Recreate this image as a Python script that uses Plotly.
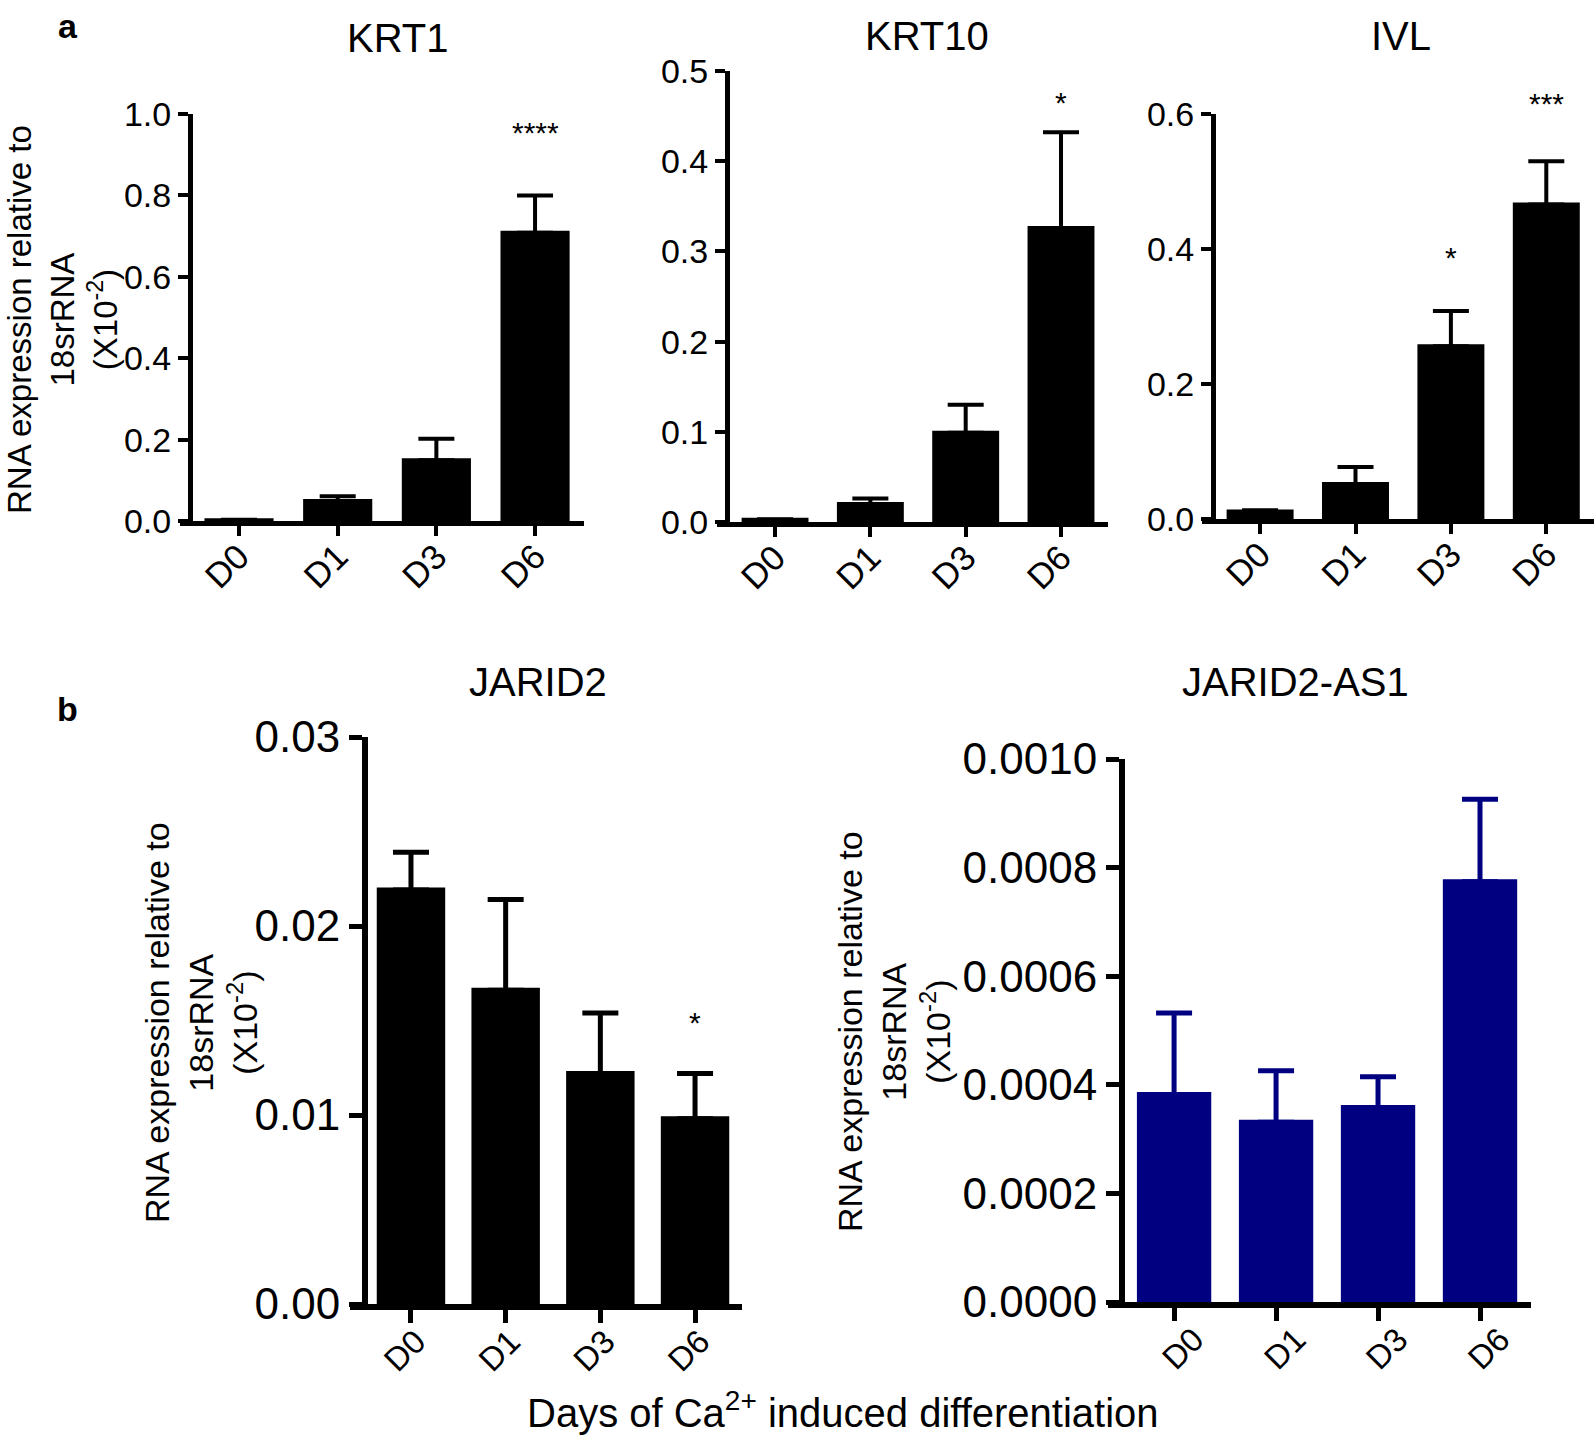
import plotly.graph_objects as go

W, H = 1594, 1437

days = ["D0", "D1", "D3", "D6"]

krt1_mean = [0.002, 0.049, 0.149, 0.708]
krt1_err = [0.001, 0.012, 0.053, 0.092]
krt10_mean = [0.0025, 0.020, 0.099, 0.326]
krt10_err = [0.0005, 0.006, 0.031, 0.106]
ivl_mean = [0.011, 0.052, 0.256, 0.466]
ivl_err = [0.002, 0.025, 0.052, 0.064]
jarid2_mean = [0.0219, 0.0166, 0.0122, 0.0098]
jarid2_err = [0.0020, 0.0048, 0.0032, 0.0024]
as1_mean = [0.000382, 0.000331, 0.000358, 0.000774]
as1_err = [0.000150, 0.000095, 0.000057, 0.000152]

titles = ["KRT1", "KRT10", "IVL", "JARID2", "JARID2-AS1"]
# significance marks: (panel index, category, y value, text)
stars = [(0, "D6", 0.97, "****"), (1, "D6", 0.472, "*"), (2, "D3", 0.397, "*"),
         (2, "D6", 0.624, "***"), (3, "D6", 0.0152, "*")]

FONT = "Arial, Liberation Sans, sans-serif"
NAVY = "#000080"


def fx(p):
    return p / W


def fy(p):
    return 1 - p / H


panels = [
    dict(x0=180, x1=584, ax=190, yt=114, yb=521, rng=[-0.598, 3.496], yr=[0, 1.0], dt=0.2, fmt=".1f",
         mean=krt1_mean, err=krt1_err, col="black", tl=10, lw=4, fs=34, xf=35, tx=398, ty=38,
         bw=0.66, sh=0),
    dict(x0=717, x1=1108, ax=727, yt=71, yb=522, rng=[-0.609, 3.493], yr=[0, 0.5], dt=0.1, fmt=".1f",
         mean=krt10_mean, err=krt10_err, col="black", tl=10, lw=4, fs=34, xf=35, tx=927, ty=36,
         bw=0.66, sh=0),
    dict(x0=1202, x1=1594, ax=1213, yt=114, yb=519, rng=[-0.609, 3.50], yr=[0, 0.6], dt=0.2, fmt=".1f",
         mean=ivl_mean, err=ivl_err, col="black", tl=10, lw=4, fs=34, xf=35, tx=1401, ty=36,
         bw=0.66, sh=0),
    dict(x0=350, x1=742, ax=365, yt=737, yb=1304, rng=[-0.644, 3.496], yr=[0, 0.03], dt=0.01, fmt=".2f",
         mean=jarid2_mean, err=jarid2_err, col="black", tl=13, lw=5, fs=44, xf=33, tx=538, ty=682,
         bw=0.67, sh=5),
    dict(x0=1108, x1=1531, ax=1122, yt=759, yb=1302, rng=[-0.648, 3.50], yr=[0, 0.001], dt=0.0002,
         fmt=".4f", mean=as1_mean, err=as1_err, col=NAVY, tl=13, lw=5, fs=44, xf=33, tx=1295, ty=682,
         bw=0.68, sh=20),
]

fig = go.Figure()
annotations = []
layout = {}

for i, p in enumerate(panels):
    n = "" if i == 0 else str(i + 1)
    xa, ya = "x" + n, "y" + n
    fig.add_trace(go.Bar(
        x=days, y=p["mean"], xaxis=xa, yaxis=ya, width=p["bw"],
        marker=dict(color=p["col"], line=dict(width=p["lw"], color=p["col"])),
        error_y=dict(type="data", symmetric=False, array=p["err"], arrayminus=[0] * 4,
                     color=p["col"], thickness=p["lw"], width=18),
        showlegend=False, hoverinfo="skip"))
    layout["xaxis" + n] = dict(
        domain=[fx(p["x0"]), fx(p["x1"])], anchor=ya, type="category", range=p["rng"],
        showline=True, linecolor="black", linewidth=p["lw"] + 1, ticks="outside",
        ticklen=p["tl"], tickwidth=p["lw"], tickcolor="black", tickangle=-45,
        ticklabelstandoff=-14, ticklabelshift=p["sh"],
        tickfont=dict(family=FONT, size=p["xf"], color="black"), showgrid=False, zeroline=False,
        fixedrange=True, automargin=False)
    layout["yaxis" + n] = dict(
        domain=[fy(p["yb"]), fy(p["yt"])], anchor="free", position=fx(p["ax"]), range=p["yr"],
        dtick=p["dt"], tick0=0, tickformat=p["fmt"], showline=True, linecolor="black",
        linewidth=p["lw"] + 1, ticks="outside", ticklen=p["tl"], tickwidth=p["lw"],
        tickcolor="black", tickfont=dict(family=FONT, size=p["fs"], color="black"),
        showgrid=False, zeroline=False, fixedrange=True, automargin=False)
    annotations.append(dict(
        text=titles[i], x=fx(p["tx"]), y=fy(p["ty"]), xref="paper", yref="paper",
        xanchor="center", yanchor="middle", showarrow=False,
        font=dict(family=FONT, size=40, color="black")))

for (pi, cat, yv, txt) in stars:
    n = "" if pi == 0 else str(pi + 1)
    top = panels[pi]["yr"][1]
    annotations.append(dict(
        text=txt, x=cat, y=yv / top, xref="x" + n, yref="y" + n + " domain", xanchor="center",
        yanchor="middle", yshift=-6, showarrow=False,
        font=dict(family=FONT, size=30, color="black")))

ytitle = "RNA expression relative to<br>18srRNA<br>(X10<sup>-2</sup>)"
for (cx, cy, fsz) in [(62, 320, 33), (201, 1022, 34), (894, 1032, 34)]:
    annotations.append(dict(
        text=ytitle, x=fx(cx), y=fy(cy), xref="paper", yref="paper", xanchor="center",
        yanchor="middle", textangle=-90, showarrow=False,
        font=dict(family=FONT, size=fsz, color="black")))

annotations.append(dict(
    text="Days of Ca<sup>2+</sup> induced differentiation", x=fx(843), y=fy(1410),
    xref="paper", yref="paper", xanchor="center", yanchor="middle", showarrow=False,
    font=dict(family=FONT, size=40, color="black")))

for (lab, cx, cy) in [("a", 68, 26), ("b", 67, 709)]:
    annotations.append(dict(
        text="<b>" + lab + "</b>", x=fx(cx), y=fy(cy), xref="paper", yref="paper",
        xanchor="center", yanchor="middle", showarrow=False,
        font=dict(family=FONT, size=34, color="black")))

fig.update_layout(
    width=W, height=H, margin=dict(l=0, r=0, t=0, b=0, pad=0, autoexpand=False), autosize=False,
    paper_bgcolor="white", plot_bgcolor="white", bargap=0.3,
    annotations=annotations, **layout)

fig.write_html("out.html", config={"displayModeBar": False},
               post_script="document.body.style.margin='0';")
